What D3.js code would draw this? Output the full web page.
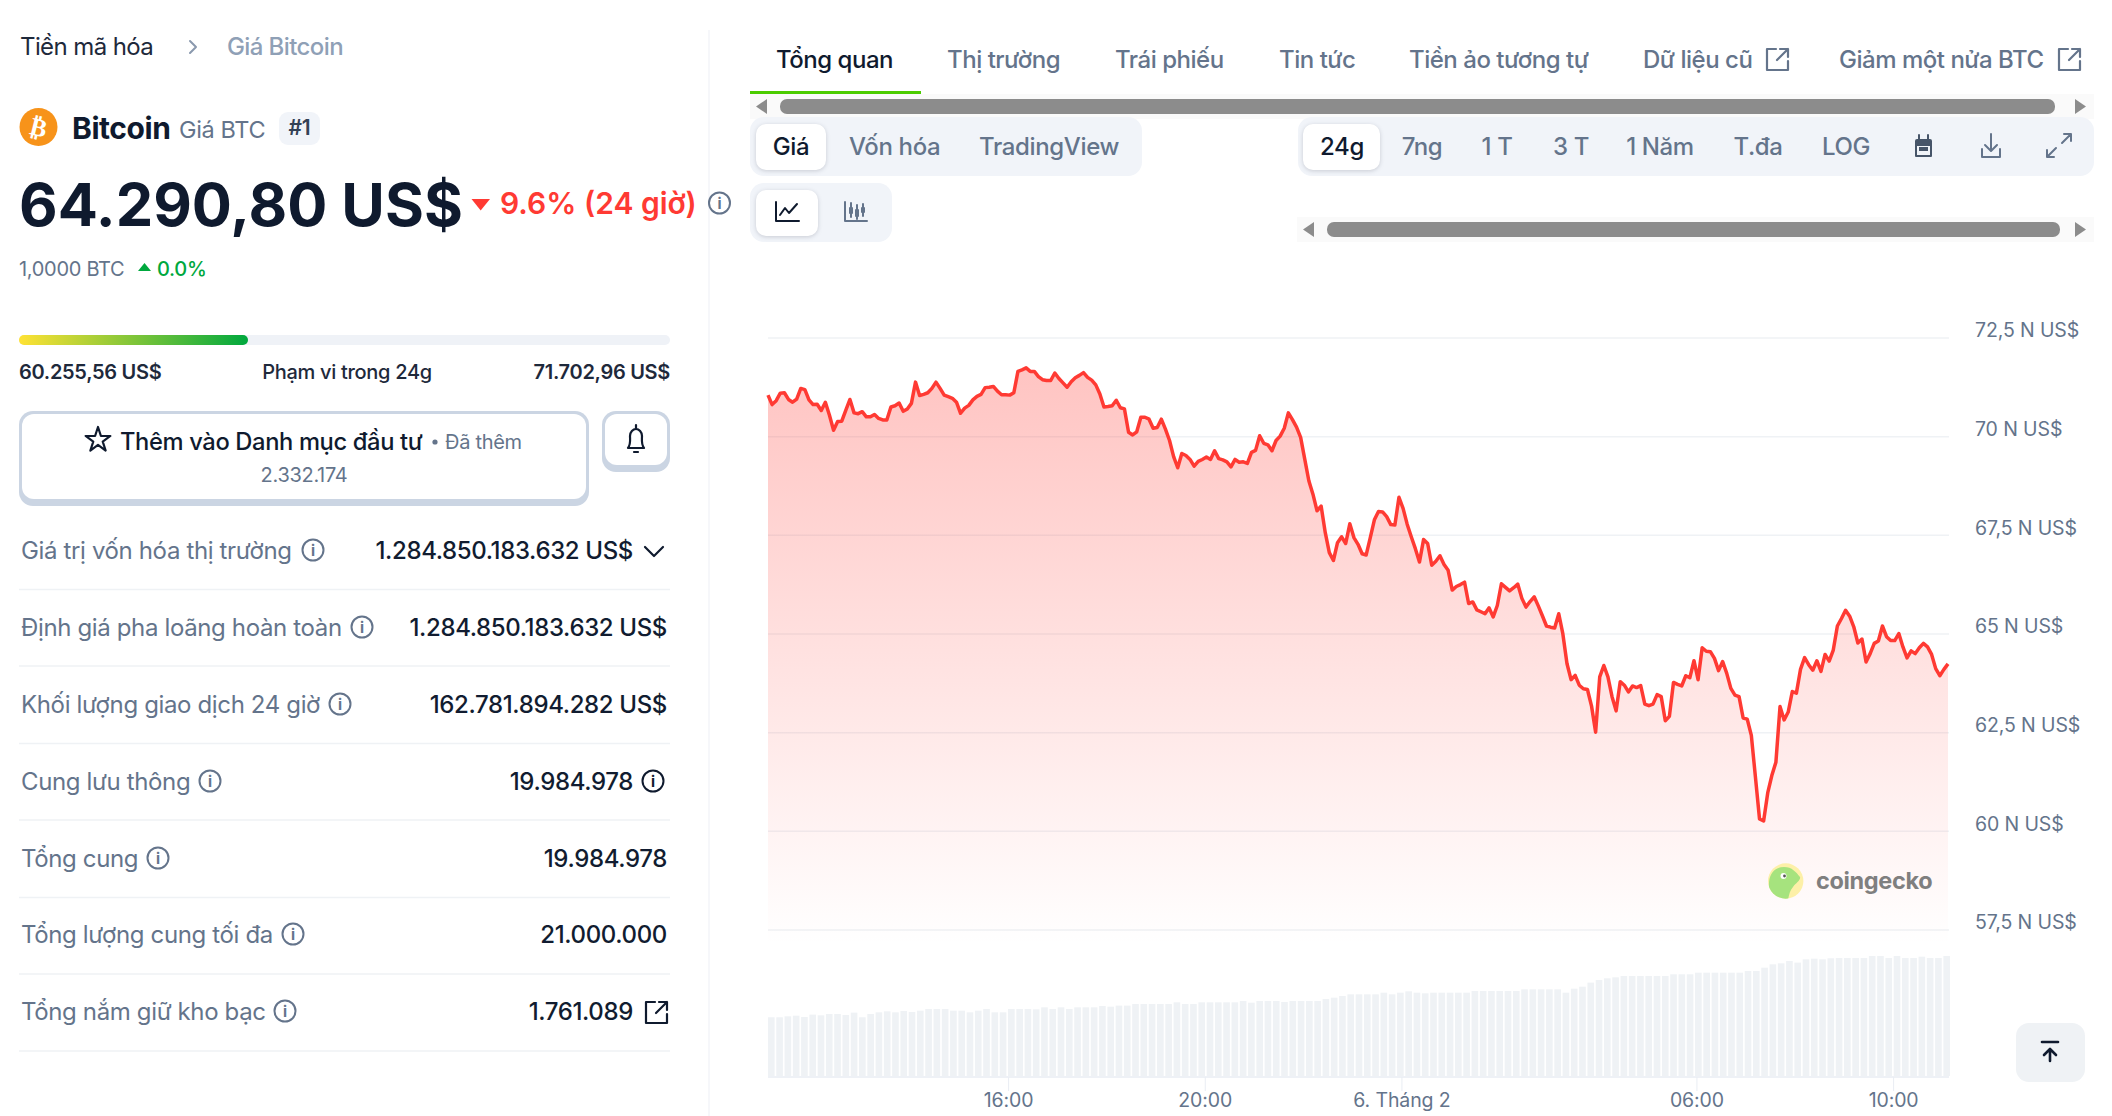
<!DOCTYPE html>
<html>
<head>
<meta charset="utf-8">
<script src="https://cdn.jsdelivr.net/npm/d3@7"></script>
<style>
html, body { margin: 0; padding: 0; background: #fff; overflow: hidden; }
svg { display: block; font-family: Inter, sans-serif; }
svg text { letter-spacing: -0.015em; }
</style>
</head>
<body>
<svg width="2112" height="1116"></svg>
<script>
// price in thousand US$, one point each 5 minutes
var priceValues = [
71.04,70.80,70.90,71.09,71.10,70.93,70.86,70.94,71.21,71.18,70.92,70.80,70.81,70.65,70.86,70.53,70.15,70.37,70.38,70.66,
70.93,70.59,70.57,70.62,70.49,70.49,70.55,70.45,70.41,70.41,70.74,70.77,70.84,70.63,70.69,70.83,71.37,71.03,71.06,71.10,
71.21,71.37,71.21,71.04,71.00,70.96,70.86,70.58,70.71,70.78,70.92,71.01,71.06,71.23,71.24,71.26,71.14,71.05,71.05,71.04,
71.10,71.64,71.68,71.73,71.64,71.64,71.51,71.43,71.41,71.41,71.60,71.46,71.35,71.24,71.38,71.48,71.54,71.61,71.49,71.42,
71.30,71.07,70.74,70.75,70.77,70.91,70.72,70.69,70.10,70.03,70.11,70.48,70.48,70.43,70.20,70.22,70.43,70.18,69.89,69.48,
69.20,69.56,69.51,69.41,69.24,69.36,69.41,69.47,69.41,69.63,69.43,69.40,69.35,69.22,69.41,69.34,69.35,69.31,69.59,69.64,
70.01,69.82,69.78,69.63,69.89,70.00,70.20,70.59,70.42,70.23,69.97,69.42,68.87,68.53,68.11,68.23,67.56,67.05,66.85,67.30,
67.45,67.28,67.78,67.43,67.26,67.02,66.99,67.43,67.88,68.09,68.08,67.96,67.76,67.75,68.45,68.17,67.77,67.45,67.15,66.81,
67.38,67.28,66.73,66.83,66.97,66.75,66.60,66.10,66.19,66.24,66.30,65.76,65.80,65.60,65.55,65.50,65.65,65.42,65.71,66.26,
66.17,66.08,66.16,66.25,65.89,65.67,65.81,65.93,65.70,65.45,65.19,65.16,65.14,65.50,64.99,64.24,63.83,63.94,63.69,63.60,
63.58,63.16,62.50,63.90,64.19,63.90,63.40,63.04,63.78,63.69,63.52,63.67,63.63,63.68,63.21,63.17,63.21,63.45,63.40,62.79,
62.90,63.76,63.71,63.67,63.93,63.88,64.31,63.83,64.64,64.55,64.54,64.37,64.06,64.29,63.99,63.61,63.44,63.40,62.86,62.83,
62.42,61.36,60.30,60.25,60.96,61.40,61.74,63.15,62.81,63.01,63.53,63.49,64.09,64.39,64.21,64.07,64.31,64.04,64.47,64.30,
64.58,65.19,65.38,65.59,65.44,65.17,64.76,64.86,64.28,64.49,64.75,64.81,65.19,64.92,64.82,64.82,65.00,64.66,64.38,64.56,
64.49,64.64,64.75,64.66,64.47,64.11,63.93,64.09,64.23
];

// volume in billion US$, one bar each 10 minutes
var volumeValues = [
79.6,79.6,80.9,81.8,80.0,83.2,82.3,84.1,84.1,82.7,85.9,79.6,84.1,86.3,87.7,86.3,88.1,86.8,88.6,90.9,
90.9,90.9,88.6,88.6,86.3,88.6,90.9,86.3,86.3,90.9,90.9,90.9,90.4,93.1,90.9,93.1,90.9,93.1,93.1,93.1,
94.9,94.0,95.4,95.4,97.6,97.6,97.6,97.6,97.6,99.9,97.6,97.6,99.9,99.9,99.9,99.9,99.9,101.7,99.4,101.7,
101.7,101.7,100.3,101.7,101.7,101.7,101.7,104.4,106.2,108.5,110.7,110.7,110.7,110.7,113.0,110.7,113.0,114.8,113.0,112.1,
113.0,113.0,113.0,113.0,113.0,115.3,115.3,115.3,115.3,115.3,115.3,117.5,117.5,117.5,117.5,117.5,113.0,118.4,121.1,126.6,
130.2,132.4,133.8,135.6,135.6,135.6,135.6,135.6,135.6,137.9,137.9,137.9,140.1,140.1,140.1,140.1,140.1,140.1,142.4,142.4,
146.9,151.4,152.8,155.9,153.7,158.2,159.1,158.2,159.6,160.0,160.0,160.0,160.0,162.7,162.7,160.0,162.7,160.0,160.0,161.8,
160.0,160.0,162.7
];

var yTicks = [57.5, 60, 62.5, 65, 67.5, 70, 72.5];
var yTickLabels = ['57,5 N US$', '60 N US$', '62,5 N US$', '65 N US$', '67,5 N US$', '70 N US$', '72,5 N US$'];
var xTicks = [new Date(2026, 1, 5, 16), new Date(2026, 1, 5, 20), new Date(2026, 1, 6, 0), new Date(2026, 1, 6, 6), new Date(2026, 1, 6, 10)];
var xTickLabels = ['16:00', '20:00', '6. Tháng 2', '06:00', '10:00'];

var pageTabs = ['Tổng quan', 'Thị trường', 'Trái phiếu', 'Tin tức', 'Tiền ảo tương tự', 'Dữ liệu cũ', 'Giảm một nửa BTC'];
var statLabels = ['Giá trị vốn hóa thị trường', 'Định giá pha loãng hoàn toàn', 'Khối lượng giao dịch 24 giờ', 'Cung lưu thông', 'Tổng cung', 'Tổng lượng cung tối đa', 'Tổng nắm giữ kho bạc'];
var statValues = ['1.284.850.183.632 US$', '1.284.850.183.632 US$', '162.781.894.282 US$', '19.984.978', '19.984.978', '21.000.000', '1.761.089'];

var dark = '#0f1a2e';
var slate = '#64748b';
var red = '#ff3a33';
var green = '#00a83e';
var panel = '#eff2f7';

var svg = d3.select('svg');

function label(x, y, str, size, weight, color, anchor) {
    return svg.append('text')
        .attr('x', x)
        .attr('y', y)
        .attr('font-size', size)
        .attr('font-weight', weight || 400)
        .attr('fill', color || dark)
        .attr('text-anchor', anchor || 'start')
        .text(str);
}

function box(x, y, w, h, r, fill) {
    return svg.append('rect')
        .attr('x', x).attr('y', y)
        .attr('width', w).attr('height', h)
        .attr('rx', r)
        .attr('fill', fill);
}

function icon(d, color, width) {
    return svg.append('path')
        .attr('d', d)
        .attr('fill', 'none')
        .attr('stroke', color || dark)
        .attr('stroke-width', width || 2.2)
        .attr('stroke-linecap', 'round')
        .attr('stroke-linejoin', 'round');
}

function tri(d, color) {
    return svg.append('path').attr('d', d).attr('fill', color);
}

function infoIcon(cx, cy, color) {
    svg.append('circle').attr('cx', cx).attr('cy', cy).attr('r', 10.5)
        .attr('fill', 'none').attr('stroke', color).attr('stroke-width', 2);
    label(cx, cy + 5.5, 'i', 15, 700, color, 'middle');
}

function externalIcon(x, y, color) {
    // x, y is the top left corner of a 21px square
    icon('M' + (x + 9) + ' ' + y + 'H' + x + 'V' + (y + 21) + 'H' + (x + 21) + 'V' + (y + 12), color);
    icon('M' + (x + 10) + ' ' + (y + 11) + 'L' + (x + 21) + ' ' + y + 'M' + (x + 13) + ' ' + y + 'H' + (x + 21) + 'V' + (y + 8), color);
}

function scrollbar(x0, x1, y, thumb0, thumb1) {
    box(x0, y, x1 - x0, 25, 0, '#fafafa');
    box(thumb0, y + 5, thumb1 - thumb0, 15, 7, '#8c8c8c');
    tri('M' + (x0 + 6) + ' ' + (y + 12.5) + 'L' + (x0 + 17) + ' ' + (y + 5) + 'V' + (y + 20) + 'Z', '#8c8c8c');
    tri('M' + (x1 - 8) + ' ' + (y + 12.5) + 'L' + (x1 - 19) + ' ' + (y + 5) + 'V' + (y + 20) + 'Z', '#8c8c8c');
}

// ---- left column
svg.append('line').attr('x1', 709).attr('x2', 709).attr('y1', 30).attr('y2', 1116)
    .attr('stroke', '#f3f5f8').attr('stroke-width', 1.5);

label(20, 55, 'Tiền mã hóa', 24, 400, '#1e293b').style('letter-spacing', '-0.025em');
icon('M190 41L196 47L190 53', '#8a99ae', 2);
label(227, 55, 'Giá Bitcoin', 24, 500, '#8fa0b6').style('letter-spacing', '-0.025em');

svg.append('circle').attr('cx', 38.5).attr('cy', 127).attr('r', 19).attr('fill', '#f7931a');
label(38.5, 136, '₿', 25, 700, '#fff', 'middle')
    .attr('font-family', 'DejaVu Sans')
    .attr('transform', 'rotate(14 38.5 127)');
label(72, 139, 'Bitcoin', 30, 700);
label(179, 138, 'Giá BTC', 23.5, 400, slate);
box(279, 112, 41, 33, 9, '#f1f4f9');
label(299.5, 135, '#1', 21, 600, '#334155', 'middle');

label(19, 226, '64.290,80 US$', 59.5, 700).style('letter-spacing', '0');
tri('M471.5 199H490L480.7 210.5Z', red);
label(500, 214, '9.6% (24 giờ)', 30, 600, red).style('letter-spacing', '0');
infoIcon(719.5, 203, slate);

label(19, 276, '1,0000 BTC', 20, 400, slate);
tri('M138 271L144.5 263L151 271Z', green);
label(157, 276, '0.0%', 20, 500, green);

var rangeGrad = svg.append('defs').append('linearGradient').attr('id', 'rangeGrad');
rangeGrad.append('stop').attr('offset', '0').attr('stop-color', '#ffe234');
rangeGrad.append('stop').attr('offset', '1').attr('stop-color', green);
box(19, 335, 651, 10, 5, panel);
box(19, 335, 229, 10, 5, 'url(#rangeGrad)');
label(19, 379, '60.255,56 US$', 20, 600, '#1e293b');
label(347, 379, 'Phạm vi trong 24g', 20, 500, '#1e293b', 'middle');
label(670, 379, '71.702,96 US$', 20, 600, '#1e293b', 'end');

// watchlist button, the thick bottom edge comes from the grey rect below the white one
box(19, 411, 570, 95, 14, '#cbd5e3');
box(22, 414, 564, 85, 12, '#fff');
svg.append('path')
    .attr('transform', 'translate(98,440)')
    .attr('d', d3.symbol(d3.symbolStar, 190))
    .attr('fill', 'none').attr('stroke', dark).attr('stroke-width', 2.2).attr('stroke-linejoin', 'round');
label(120, 450, 'Thêm vào Danh mục đầu tư', 23.7, 500);
svg.append('circle').attr('cx', 435).attr('cy', 442).attr('r', 2.6).attr('fill', slate);
label(445, 449, 'Đã thêm', 20, 400, slate);
label(304, 482, '2.332.174', 20, 400, slate, 'middle');

box(602, 411, 68, 61, 14, '#cbd5e3');
box(605, 414, 62, 51, 12, '#fff');
icon('M628 448C631 444 630 440 630 436C630 432 633 429 636 429C639 429 642 432 642 436C642 440 641 444 644 448Z', dark);
icon('M636 425V429M634 452H638', dark);

var statCenter = [551, 628, 705, 782, 859, 935, 1012];
var statRule = [589.5, 666, 743.5, 820, 897.5, 974, 1051];
var infoAt = [313, 362, 340, 210, 158, 293, 285];
var valueRight = [633, 667, 667, 633, 667, 667, 633];
statLabels.forEach(function(s, i) {
    label(21, statCenter[i] + 8, s, 24, 400, slate);
    infoIcon(infoAt[i], statCenter[i] - 1, slate);
    label(valueRight[i], statCenter[i] + 8, statValues[i], 24, 500, '#111c30', 'end');
    svg.append('line').attr('x1', 19).attr('x2', 670).attr('y1', statRule[i]).attr('y2', statRule[i])
        .attr('stroke', '#eff2f5').attr('stroke-width', 1.5);
});
icon('M645 547L654 556L663 547', dark);
infoIcon(653, 781, dark);
externalIcon(646, 1002, dark);

// ---- tabs and toolbars
var tabX = [776, 947, 1115, 1279, 1409, 1643, 1839];
pageTabs.forEach(function(s, i) {
    label(tabX[i], 68, s, 24, 500, i == 0 ? dark : slate).style('letter-spacing', '-0.02em');
});
externalIcon(1767, 49, slate);
externalIcon(2059, 49, slate);
box(750, 91, 171, 3, 0, '#4bcc00');
scrollbar(750, 2094, 94, 780, 2055);

box(750, 117, 392, 59, 14, '#f1f4f9');
box(756, 124, 70, 46, 10, '#fff').style('filter', 'drop-shadow(0 1px 2px rgba(15,23,42,.18))');
label(791, 155, 'Giá', 24, 500, dark, 'middle');
label(849, 155, 'Vốn hóa', 24, 500, slate);
label(979, 155, 'TradingView', 24, 500, slate);

box(1298, 117, 796, 59, 14, '#f1f4f9');
box(1303, 124, 77, 46, 10, '#fff').style('filter', 'drop-shadow(0 1px 2px rgba(15,23,42,.18))');
var rangeLabels = ['24g', '7ng', '1 T', '3 T', '1 Năm', 'T.đa', 'LOG'];
var rangeX = [1342, 1422, 1497, 1571, 1660, 1758, 1846];
rangeLabels.forEach(function(s, i) {
    label(rangeX[i], 155, s, 24, 500, i == 0 ? dark : slate, 'middle');
});
box(1915, 139, 17, 7, 2, '#475569');
icon('M1916 142H1931V156H1916Z M1919 135V139 M1928 135V139', '#475569', 2);
box(1919, 147, 9, 4, 0, '#475569');
icon('M1991 134V150M1985 145L1991 151L1997 145M1982 149V157H2000V149', slate, 2);
icon('M2064 134H2071V141M2071 134L2062 143M2047 150V157H2054M2047 157L2056 148', slate, 2);

box(750, 183, 142, 59, 14, '#f1f4f9');
box(756, 190, 62, 46, 10, '#fff').style('filter', 'drop-shadow(0 1px 2px rgba(15,23,42,.18))');
icon('M776 202V221H799M780 215L785 208L789 213L797 204', dark, 2);
icon('M845 202V221H867', slate, 2);
icon('M851 203V217M857 205V219M863 204V216', slate, 2);
box(849, 207, 4, 7, 1, slate);
box(855, 209, 4, 8, 1, slate);
box(861, 207, 4, 6, 1, slate);
scrollbar(1297, 2094, 217, 1327, 2060);

// ---- chart
var plotLeft = 768, plotRight = 1949;
var timeStart = new Date(2026, 1, 5, 11, 7);

var xScale = d3.scaleTime()
    .domain([timeStart, d3.timeMinute.offset(timeStart, 5 * (priceValues.length - 1))])
    .range([plotLeft, 1948]);

var yScale = d3.scaleLinear()
    .domain([57.5, 72.5])
    .range([929.5, 337.5]);

var volumeX = d3.scaleBand()
    .domain(d3.range(volumeValues.length))
    .range([plotLeft, 1950])
    .paddingInner(0.2);

var volumeY = d3.scaleLinear()
    .domain([0, 162.7])
    .range([1076, 956]);

var areaGrad = svg.select('defs').append('linearGradient')
    .attr('id', 'areaGrad')
    .attr('gradientUnits', 'userSpaceOnUse')
    .attr('x1', 0).attr('x2', 0).attr('y1', 366).attr('y2', 945);
areaGrad.append('stop').attr('offset', '0').attr('stop-color', red).attr('stop-opacity', 0.3);
areaGrad.append('stop').attr('offset', '1').attr('stop-color', red).attr('stop-opacity', 0);

var yAxis = d3.axisRight(yScale)
    .tickValues(yTicks)
    .tickFormat(function(d, i) { return yTickLabels[i]; })
    .tickSize(-(plotRight - plotLeft))
    .tickPadding(26);

var yAxisG = svg.append('g')
    .attr('class', 'y-axis')
    .attr('transform', 'translate(' + plotRight + ',0)')
    .call(yAxis);
yAxisG.select('.domain').remove();
yAxisG.selectAll('line').attr('stroke', '#eff2f5').attr('stroke-width', 1.5);
yAxisG.selectAll('text')
    .attr('dy', '-0.7')
    .attr('font-family', 'Inter, sans-serif')
    .attr('font-size', 19.5)
    .attr('fill', slate)
    .style('letter-spacing', '-0.006em');

var pricePoints = priceValues.map(function(v, i) {
    return { time: d3.timeMinute.offset(timeStart, 5 * i), price: v };
});

var priceArea = d3.area()
    .x(function(d) { return xScale(d.time); })
    .y0(yScale(57.5) + 14)
    .y1(function(d) { return yScale(d.price); });

var priceLine = d3.line()
    .x(function(d) { return xScale(d.time); })
    .y(function(d) { return yScale(d.price); });

svg.append('path').datum(pricePoints)
    .attr('d', priceArea)
    .attr('fill', 'url(#areaGrad)');

svg.append('path').datum(pricePoints)
    .attr('d', priceLine)
    .attr('fill', 'none')
    .attr('stroke', red)
    .attr('stroke-width', 3.5)
    .attr('stroke-linejoin', 'round');

svg.append('g').selectAll('rect')
    .data(volumeValues)
    .enter()
    .append('rect')
    .attr('x', function(d, i) { return volumeX(i); })
    .attr('y', function(d) { return volumeY(d); })
    .attr('width', volumeX.bandwidth())
    .attr('height', function(d) { return 1076 - volumeY(d); })
    .attr('fill', '#eff2f5');

var xAxis = d3.axisBottom(xScale)
    .tickValues(xTicks)
    .tickFormat(function(d, i) { return xTickLabels[i]; })
    .tickSize(14)
    .tickPadding(2);

var xAxisG = svg.append('g')
    .attr('class', 'x-axis')
    .attr('transform', 'translate(0,1077)')
    .call(xAxis);
xAxisG.select('.domain').attr('stroke', '#e9edf3').attr('stroke-width', 1.5).attr('d', 'M' + plotLeft + ',0H' + plotRight);
xAxisG.selectAll('line').attr('stroke', '#e9edf3').attr('stroke-width', 1);
xAxisG.selectAll('text')
    .attr('font-family', 'Inter, sans-serif')
    .attr('font-size', 19.5)
    .attr('fill', slate)
    .style('letter-spacing', '-0.006em');

// watermark
svg.select('defs').append('clipPath').attr('id', 'geckoClip')
    .append('circle').attr('cx', 1785.7).attr('cy', 881).attr('r', 17.7);
svg.append('circle').attr('cx', 1785.7).attr('cy', 881).attr('r', 17.7).attr('fill', '#fdf0a8');
svg.append('path')
    .attr('clip-path', 'url(#geckoClip)')
    .attr('d', 'M1769 882C1770 872 1776 867 1784 867C1792 867 1796 872 1800 877C1801 880 1796 883 1793 887C1790 890 1789 895 1788 900H1768Z')
    .attr('fill', '#a6e37e');
svg.append('circle').attr('cx', 1783.5).attr('cy', 876).attr('r', 3).attr('fill', '#fff');
svg.append('circle').attr('cx', 1784.5).attr('cy', 876).attr('r', 1.4).attr('fill', '#555');
label(1816, 889, 'coingecko', 23.5, 700, '#7f7f7f');

// back to top button
box(2016, 1023, 69, 59, 13, '#eff2f5');
icon('M2042 1042H2058', dark, 2.6);
icon('M2050 1061V1049M2044 1055L2050 1049L2056 1055', dark, 2.6);
</script>
</body>
</html>
